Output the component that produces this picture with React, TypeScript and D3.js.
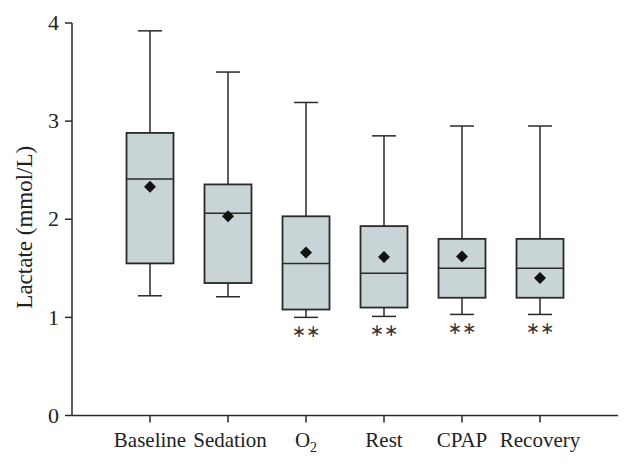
import React from "react";
import * as d3 from "d3";

const categories = ["Baseline", "Sedation", "O2", "Rest", "CPAP", "Recovery"];
const minVals = [1.22, 1.21, 1.0, 1.01, 1.03, 1.03];
const q1Vals = [1.55, 1.35, 1.08, 1.1, 1.2, 1.2];
const medianVals = [2.41, 2.06, 1.55, 1.45, 1.5, 1.5];
const q3Vals = [2.88, 2.355, 2.03, 1.93, 1.8, 1.8];
const maxVals = [3.92, 3.5, 3.19, 2.85, 2.95, 2.95];
const meanVals = [2.33, 2.03, 1.66, 1.615, 1.62, 1.4];
const significant = [false, false, true, true, true, true];
const yTicks = [0, 1, 2, 3, 4];

const W = 632;
const H = 464;
const left = 72;
const right = 618;
const top = 23;
const bottom = 415.5;

export default function App() {
  const x = d3.scaleLinear().domain([0, categories.length + 1]).range([left, right]);
  const y = d3.scaleLinear().domain([0, 4]).range([bottom, top]);
  const boxW = 47;
  const capW = 24;
  const diamond = d3.symbol().type(d3.symbolSquare).size(72)();
  const stroke = "#2a2a2a";
  const font = "'Liberation Serif', 'Times New Roman', serif";

  return (
    <svg
      width={W}
      height={H}
      style={{ position: "absolute", left: 0, top: 0, background: "#fff" }}
      fontFamily={font}
    >
      <line x1={left} x2={left} y1={top} y2={bottom} stroke={stroke} strokeWidth={1.5} />
      <line x1={left} x2={right} y1={bottom} y2={bottom} stroke={stroke} strokeWidth={1.5} />
      {yTicks.map((t) => (
        <g key={t}>
          <line x1={left - 7} x2={left} y1={y(t)} y2={y(t)} stroke={stroke} strokeWidth={1.5} />
          <text x={left - 13} y={y(t)} dy="0.1em" textAnchor="end" fontSize={22} fill="#222" dominantBaseline="middle">
            {t}
          </text>
        </g>
      ))}
      <text
        transform={`translate(27,${(top + bottom) / 2 + 8}) rotate(-90)`}
        textAnchor="middle"
        fontSize={23}
        fill="#222"
        dominantBaseline="middle"
      >
        Lactate (mmol/L)
      </text>

      {categories.map((c, i) => {
        const cx = x(i + 1);
        return (
          <g key={c}>
            <line x1={cx} x2={cx} y1={bottom} y2={bottom + 7} stroke={stroke} strokeWidth={1.5} />
            <text x={cx + (i === 1 ? 2 : 0)} y={446.5} textAnchor="middle" fontSize={21} fill="#222">
              {c === "O2" ? (
                <>
                  O<tspan fontSize={14} dy={5}>2</tspan>
                </>
              ) : (
                c
              )}
            </text>
            <line x1={cx} x2={cx} y1={y(maxVals[i])} y2={y(q3Vals[i])} stroke={stroke} strokeWidth={1.5} />
            <line x1={cx} x2={cx} y1={y(q1Vals[i])} y2={y(minVals[i])} stroke={stroke} strokeWidth={1.5} />
            <line x1={cx - capW / 2} x2={cx + capW / 2} y1={y(maxVals[i])} y2={y(maxVals[i])} stroke={stroke} strokeWidth={1.5} />
            <line x1={cx - capW / 2} x2={cx + capW / 2} y1={y(minVals[i])} y2={y(minVals[i])} stroke={stroke} strokeWidth={1.5} />
            <rect
              x={cx - boxW / 2}
              y={y(q3Vals[i])}
              width={boxW}
              height={y(q1Vals[i]) - y(q3Vals[i])}
              fill="#c9d4d6"
              stroke={stroke}
              strokeWidth={1.8}
            />
            <line x1={cx - boxW / 2} x2={cx + boxW / 2} y1={y(medianVals[i])} y2={y(medianVals[i])} stroke={stroke} strokeWidth={1.5} />
            <path d={diamond} transform={`translate(${cx},${y(meanVals[i])}) rotate(45)`} fill="#111" />
            {significant[i] && (
              <text
                x={cx}
                y={y(minVals[i]) + 15}
                textAnchor="middle"
                fontSize={17}
                fill="#333"
                dominantBaseline="middle"
                fontFamily="'DejaVu Sans', sans-serif"
              >
                ∗∗
              </text>
            )}
          </g>
        );
      })}
    </svg>
  );
}
